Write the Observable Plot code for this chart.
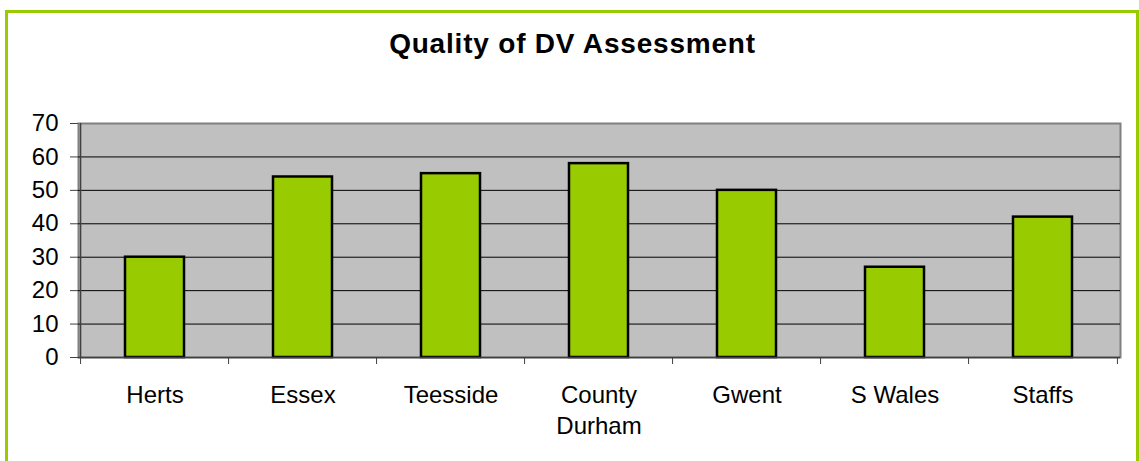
<!DOCTYPE html>
<html>
<head>
<meta charset="utf-8">
<script src="https://cdn.jsdelivr.net/npm/d3@7"></script>
<script src="https://cdn.jsdelivr.net/npm/@observablehq/plot@0.6"></script>
<style>
  html, body { margin: 0; padding: 0; background: #fff; overflow: hidden; }
  #wrap { position: relative; width: 1139px; height: 461px; overflow: hidden; }
  #border { position: absolute; left: 5px; top: 10px; width: 1134px; height: 490px; box-sizing: border-box; border: 3px solid #99CC00; }
  #title { position: absolute; left: 3px; top: 30px; width: 1139px; text-align: center;
           font-family: 'Liberation Sans', Arial, sans-serif; font-weight: bold; font-size: 28px;
           line-height: 1; letter-spacing: 0.8px; color: #000; }
  #chart { position: absolute; left: 0; top: 0; }
</style>
</head>
<body>
<div id="wrap">
  <div id="border"></div>
  <div id="chart"></div>
  <div id="title">Quality of DV Assessment</div>
</div>
<script>
const categories = ["Herts", "Essex", "Teesside", "County Durham", "Gwent", "S Wales", "Staffs"];
const values = [30, 54, 55, 58, 50, 27, 42];
const yTicks = [0, 10, 20, 30, 40, 50, 60, 70];
const gridTicks = [10, 20, 30, 40, 50, 60];
const labelText = {"County Durham": "County\nDurham"};

const data = categories.map((c, i) => ({category: c, value: values[i]}));

const W = 1139, H = 461, mL = 78, mR = 19, mT = 123, mB = 104;
const step = (W - mL - mR) / categories.length;

const chart = Plot.plot({
  width: W,
  height: H,
  marginLeft: mL,
  marginRight: mR,
  marginTop: mT,
  marginBottom: mB,
  style: {fontFamily: "'Liberation Sans', Arial, sans-serif", fontSize: "24px", background: "transparent", color: "black", overflow: "visible"},
  x: {domain: categories, paddingInner: 0.6, paddingOuter: 0.3, axis: null},
  y: {domain: [0, 70], axis: null},
  marks: [
    Plot.frame({fill: "#C0C0C0", stroke: "#808080", strokeWidth: 2}),
    Plot.ruleY(gridTicks, {stroke: "black", strokeWidth: 1}),
    Plot.barY(data, {x: "category", y: "value", fill: "#99CC00", stroke: "black", strokeWidth: 2.5}),
    Plot.ruleY([0], {stroke: "#404040", strokeWidth: 1.5}),
    Plot.ruleX([categories[0]], {x: d => d, dx: -step / 2, y1: 0, y2: 70, stroke: "#404040", strokeWidth: 1.5}),
    Plot.ruleX(categories, {x: d => d, dx: -step / 2, y1: 0, y2: 0, insetBottom: -7, stroke: "#404040"}),
    Plot.ruleX([categories[categories.length - 1]], {x: d => d, dx: step / 2, y1: 0, y2: 0, insetBottom: -7, stroke: "#404040"}),
    Plot.axisY({ticks: yTicks, tickSize: 8, tickPadding: 12, stroke: "#404040", fill: "black", fontSize: 24, label: null}),
    Plot.axisX({tickSize: 0, tickPadding: 23, tickFormat: d => labelText[d] ?? d, lineHeight: 1.3, fill: "black", fontSize: 24, label: null})
  ]
});
document.getElementById("chart").appendChild(chart);
</script>
</body>
</html>
